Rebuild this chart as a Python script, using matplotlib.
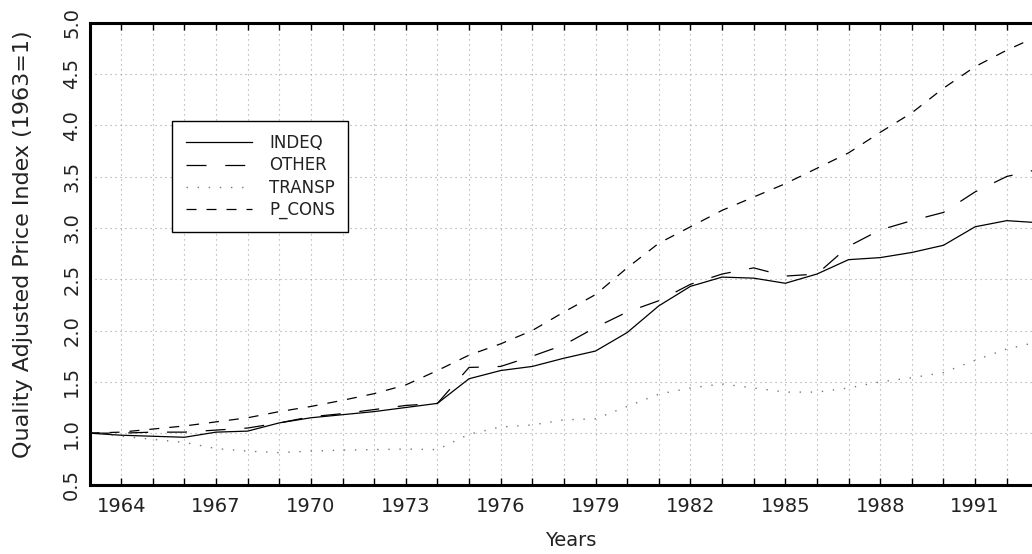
import numpy as np
import matplotlib
matplotlib.use('Agg')
import matplotlib.pyplot as plt
from matplotlib.ticker import MultipleLocator, FixedLocator

# Dane (indeksy cen, 1963 = 1)
years = list(range(1963, 1994))
indeq = [1.00, 0.98, 0.97, 0.96, 1.01, 1.02, 1.10, 1.15, 1.18, 1.21, 1.25, 1.29,
         1.53, 1.61, 1.65, 1.73, 1.80, 1.98, 2.24, 2.43, 2.52, 2.51, 2.46, 2.55,
         2.69, 2.71, 2.76, 2.83, 3.01, 3.07, 3.05]
other = [1.00, 1.00, 1.01, 1.01, 1.03, 1.05, 1.10, 1.16, 1.19, 1.23, 1.27, 1.29,
         1.64, 1.65, 1.75, 1.86, 2.03, 2.18, 2.29, 2.45, 2.55, 2.61, 2.53, 2.55,
         2.82, 2.98, 3.07, 3.15, 3.35, 3.50, 3.57]
transp = [1.00, 0.97, 0.94, 0.91, 0.85, 0.825, 0.81, 0.825, 0.835, 0.84, 0.845, 0.84,
          0.99, 1.06, 1.08, 1.13, 1.14, 1.26, 1.38, 1.44, 1.48, 1.44, 1.40, 1.40,
          1.44, 1.50, 1.54, 1.59, 1.71, 1.82, 1.89]
p_cons = [1.00, 1.01, 1.04, 1.07, 1.11, 1.15, 1.21, 1.26, 1.32, 1.385, 1.47, 1.61,
          1.76, 1.87, 2.00, 2.18, 2.35, 2.61, 2.85, 3.01, 3.17, 3.30, 3.43, 3.58,
          3.73, 3.93, 4.12, 4.36, 4.57, 4.73, 4.87]
xtick_years = list(range(1964, 1992, 3))
ytick_vals = [0.5, 1.0, 1.5, 2.0, 2.5, 3.0, 3.5, 4.0, 4.5, 5.0]

plt.rcParams['font.family'] = ['DejaVu Sans']
plt.rcParams['text.color'] = '#222222'
plt.rcParams['xtick.labelcolor'] = '#222222'
plt.rcParams['ytick.labelcolor'] = '#222222'
plt.rcParams['axes.labelcolor'] = '#222222'

fig = plt.figure(figsize=(10.32, 5.54), dpi=100)
ax = fig.add_axes([89.5 / 1032, (554 - 484.5) / 554, 1 - 89.5 / 1032, 462 / 554])

ax.plot(years, indeq, color='black', lw=0.9, label='INDEQ')
ax.plot(years, other, color='black', lw=0.9, dashes=(16, 15), label='OTHER')
ax.plot(years, transp, color='#777777', lw=1.0, dashes=(1, 7), label='TRANSP')
ax.plot(years, p_cons, color='black', lw=0.9, dashes=(8, 8), label='P_CONS')

ax.set_xlim(1963, 1992.8)
ax.set_ylim(0.5, 5.0)

ax.xaxis.set_major_locator(FixedLocator(xtick_years))
ax.xaxis.set_minor_locator(MultipleLocator(1))
ax.set_xticklabels([str(y) for y in xtick_years])
ax.yaxis.set_major_locator(FixedLocator(ytick_vals))
ax.set_yticklabels(['%.1f' % v for v in ytick_vals], rotation=90, va='center')

ax.grid(which='both', axis='x', color='#a0a0a0', lw=0.8, linestyle=(0, (1, 3.5)))
ax.grid(which='major', axis='y', color='#a0a0a0', lw=0.8, linestyle=(0, (1, 3.5)))

for s in ['left', 'top', 'bottom']:
    ax.spines[s].set_linewidth(2.2)
ax.spines['right'].set_visible(False)

ax.tick_params(axis='x', which='both', direction='in', top=True, length=5, width=1,
               labelsize=14, pad=9)
ax.tick_params(axis='y', which='both', length=0, labelsize=14, pad=6)

ylab = ax.set_ylabel('Quality Adjusted Price Index (1963=1)', fontsize=16)
ax.yaxis.set_label_coords(-(89.5 - 23) / 942.5, 0.52)
ylab.set_va('center')
xlab = ax.set_xlabel('Years', fontsize=14)
ax.xaxis.set_label_coords(0.511, -(540 - 484.5) / 462)
xlab.set_va('center')

leg = ax.legend(loc='upper left', bbox_to_anchor=(0.0879, 0.787), borderaxespad=0,
                fontsize=12, handlelength=4.0, handletextpad=1.0, labelspacing=0.25,
                borderpad=0.8, fancybox=False, framealpha=1, edgecolor='black')
leg.get_frame().set_linewidth(1.0)

fig.savefig('out.png', dpi=100)
